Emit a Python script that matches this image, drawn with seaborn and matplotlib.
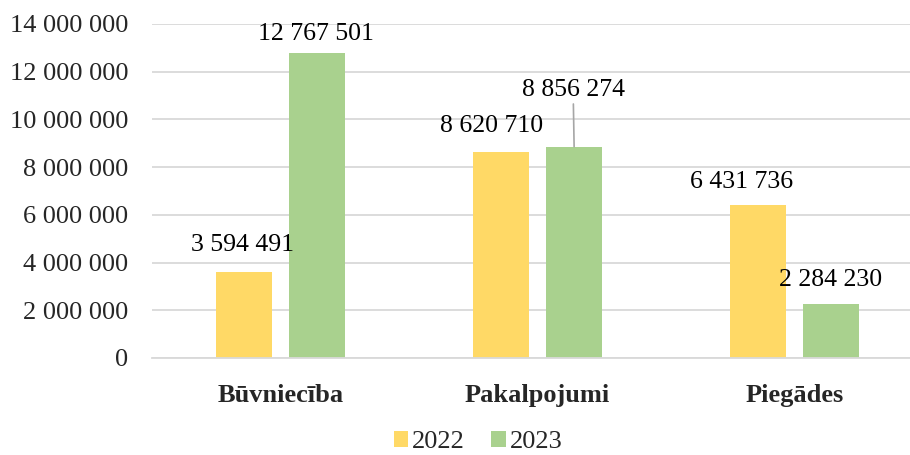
import pandas as pd
import matplotlib.pyplot as plt
import matplotlib.ticker as mticker
import seaborn as sns
from matplotlib.patches import Patch

categories = ['Būvniecība', 'Pakalpojumi', 'Piegādes']
years = ['2022', '2023']
values_2022 = [3594491, 8620710, 6431736]
values_2023 = [12767501, 8856274, 2284230]

# label offsets from bar top (pixels), per year
offsets_2022 = [(-1, 27), (-9, 26), (-16, 23)]
offsets_2023 = [(-1, 19), (-1, 57), (-1, 24)]

colors = ['#FFD966', '#A9D18E']


def fmt(v):
    return f'{v:,.0f}'.replace(',', ' ')


def main():
    df = pd.DataFrame({
        'category': categories * 2,
        'year': [years[0]] * 3 + [years[1]] * 3,
        'value': values_2022 + values_2023,
    })

    sns.set_style('white')
    plt.rcParams['font.family'] = ['Liberation Serif', 'DejaVu Serif']

    fig = plt.figure(figsize=(9.1, 4.55), dpi=100)
    ax = fig.add_axes([152 / 910, 97 / 455, 771 / 910, 334 / 455])

    sns.barplot(data=df, x='category', y='value', hue='year', palette=colors,
                width=0.57, gap=0.23, ax=ax, legend=False, saturation=1,
                linewidth=0, edgecolor='none')

    ax.set_ylim(0, 14000000)
    ax.set_xlim(-0.5, 2.5)
    ax.yaxis.set_major_locator(mticker.MultipleLocator(2000000))
    ax.yaxis.set_major_formatter(mticker.FuncFormatter(lambda v, p: fmt(v)))
    ax.grid(axis='y', color='#D9D9D9', linewidth=1.3)
    ax.set_axisbelow(True)
    for s in ['top', 'right', 'left']:
        ax.spines[s].set_visible(False)
    ax.spines['bottom'].set_color('#D9D9D9')
    ax.spines['bottom'].set_linewidth(1.3)
    ax.tick_params(axis='y', length=0, labelsize=19, pad=17)
    ax.tick_params(axis='x', length=0, labelsize=19, pad=19)
    for lbl in ax.get_xticklabels():
        lbl.set_fontweight('bold')
    ax.set_xlabel('')
    ax.set_ylabel('')

    # data labels
    offsets = [offsets_2022, offsets_2023]
    for cont, offs in zip(ax.containers, offsets):
        for bar, (dx, dy) in zip(cont, offs):
            x = bar.get_x() + bar.get_width() / 2
            h = bar.get_height()
            arrow = None
            if dy > 40:
                arrow = dict(arrowstyle='-', color='#A6A6A6', lw=1.2,
                             shrinkA=0, shrinkB=0)
            ax.annotate(fmt(h), xy=(x, h), xytext=(dx, dy),
                        textcoords='offset pixels', ha='center', va='center',
                        fontsize=18.5, color='#000000', arrowprops=arrow,
                        annotation_clip=False)

    handles = [Patch(facecolor=c, edgecolor='none') for c in colors]
    fig.legend(handles, years, loc='center', bbox_to_anchor=(478 / 910, 1 - 442 / 455),
               ncol=2, frameon=False, fontsize=19, handlelength=0.55,
               handleheight=0.55, handletextpad=0.15, columnspacing=1.0)

    fig.savefig('out.png', dpi=100)


if __name__ == '__main__':
    main()
